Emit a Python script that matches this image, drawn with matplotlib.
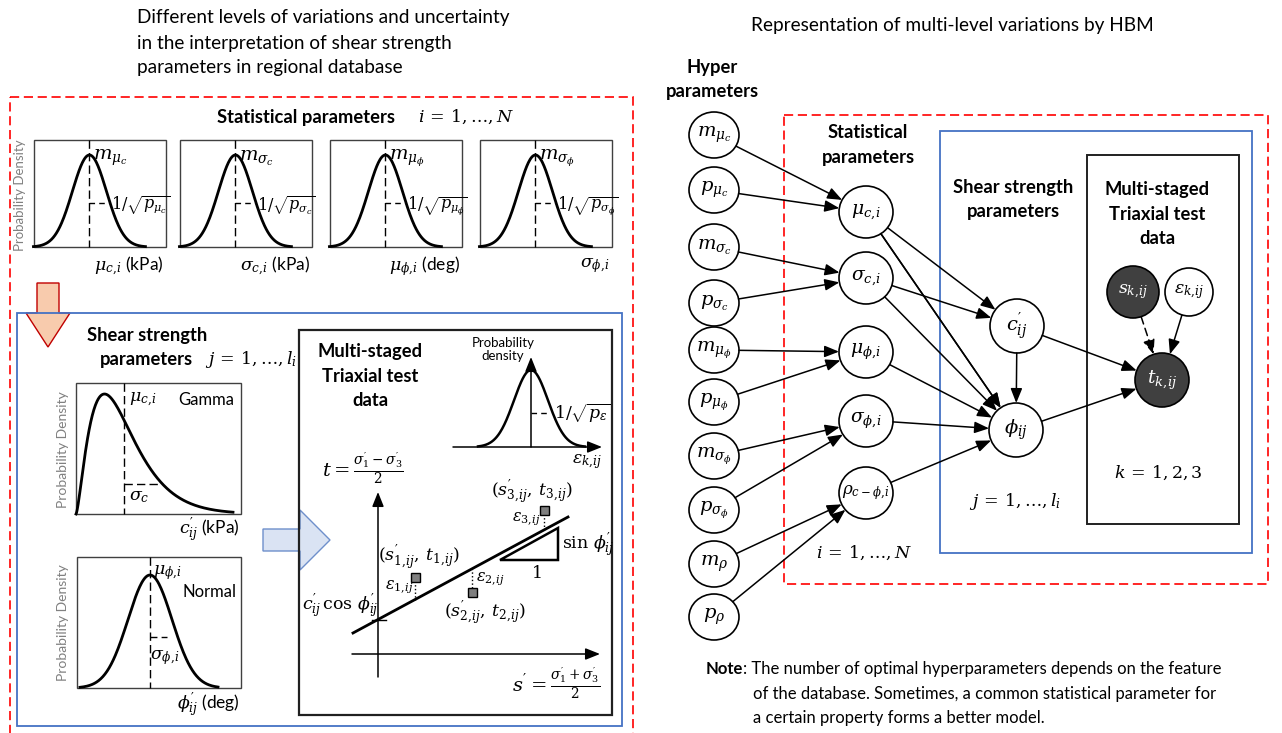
import numpy as np
import matplotlib.pyplot as plt
from matplotlib.patches import Rectangle, Ellipse, Polygon

plt.rcParams['font.family'] = ['Lato', 'DejaVu Sans']
plt.rcParams['mathtext.fontset'] = 'custom'
plt.rcParams['mathtext.rm'] = 'DejaVu Serif'
plt.rcParams['mathtext.it'] = 'DejaVu Serif:italic'
plt.rcParams['mathtext.bf'] = 'DejaVu Serif:bold'

# ---- left panel: priors of the statistical parameters ----
prior_mean = [r'$m_{\mu_c}$', r'$m_{\sigma_c}$', r'$m_{\mu_\phi}$', r'$m_{\sigma_\phi}$']
prior_prec = [r'$1/\sqrt{p_{\mu_c}}$', r'$1/\sqrt{p_{\sigma_c}}$',
              r'$1/\sqrt{p_{\mu_\phi}}$', r'$1/\sqrt{p_{\sigma_\phi}}$']
prior_xlab = [r'$\mu_{c,\!i}$ (kPa)', r'$\sigma_{c,\!i}$ (kPa)', r'$\mu_{\phi,\!i}$ (deg)',
              r'$\sigma_{\phi,\!i}$']
prior_left = [34, 180, 330, 480]

# triaxial test points (s', t) and the fitted failure line
pt_s = [415, 472, 544]
pt_t = [577, 592, 510]
pt_lab = [r"$(s^{\prime}_{1,\!ij},\, t_{1,\!ij})$", r"$(s^{\prime}_{2,\!ij},\, t_{2,\!ij})$",
          r"$(s^{\prime}_{3,\!ij},\, t_{3,\!ij})$"]
err_lab = [r'$\varepsilon_{1,\!ij}$', r'$\varepsilon_{2,\!ij}$', r'$\varepsilon_{3,\!ij}$']
line_x = [353, 568]
line_y = [633, 517]

# ---- right panel: HBM graph ----
hyper_lab = [r'$m_{\mu_c}$', r'$p_{\mu_c}$', r'$m_{\sigma_c}$', r'$p_{\sigma_c}$',
             r'$m_{\mu_\phi}$', r'$p_{\mu_\phi}$', r'$m_{\sigma_\phi}$', r'$p_{\sigma_\phi}$',
             r'$m_\rho$', r'$p_\rho$']
hyper_y = [135, 190, 247, 303, 350, 402, 456, 510, 564, 617]
stat_lab = [r'$\mu_{c,\!i}$', r'$\sigma_{c,\!i}$', r'$\mu_{\phi,\!i}$', r'$\sigma_{\phi,\!i}$',
            r'$\rho_{c-\phi,\!i}$']
stat_y = [212, 278, 352, 421, 493]
# stat node -> shear strength node ('c' or 'phi')
stat_links = [(0, 'c'), (0, 'phi'), (0, 'phi'), (1, 'c'), (1, 'phi'),
              (2, 'phi'), (3, 'phi'), (4, 'phi')]

fig = plt.figure(figsize=(12.82, 7.33), dpi=100)
ax = fig.add_axes([0, 0, 1, 1])
ax.set_xlim(0, 1282)
ax.set_ylim(733, 0)
ax.axis('off')

RED_DASH = (0, (5.5, 2.8))
BLUE = '#4472C4'


def txt(x, y, s, size=12, ha='left', va='center', **kw):
    ax.text(x, y, s, fontsize=size, ha=ha, va=va, **kw)


def arrow(p0, p1, ls='-', lw=1.1):
    ax.annotate('', xy=p1, xytext=p0,
                arrowprops=dict(arrowstyle='-|>,head_length=0.55,head_width=0.22',
                                color='k', lw=lw, ls=ls, shrinkA=0, shrinkB=0,
                                mutation_scale=16))


def edge_pt(c, r, toward):
    d = np.array(toward, float) - np.array(c, float)
    d /= np.hypot(*d)
    k = 1 / np.sqrt((d[0] / r[0]) ** 2 + (d[1] / r[1]) ** 2)
    return (c[0] + d[0] * k, c[1] + d[1] * k)


def node(c, r, s, dark=False, size=13):
    ax.add_patch(Ellipse(c, 2 * r[0], 2 * r[1], fc='#404040' if dark else 'white',
                         ec='k', lw=1.2, zorder=3))
    txt(c[0], c[1], s, size, ha='center', color='white' if dark else 'k', zorder=4)


# titles
txt(137, 17, 'Different levels of variations and uncertainty', 13.7)
txt(137, 43, 'in the interpretation of shear strength', 13.7)
txt(137, 68, 'parameters in regional database', 13.7)
txt(952, 25, 'Representation of multi-level variations by HBM', 13.7, ha='center')

# outer frame of the left panel
ax.add_patch(Rectangle((10, 97), 623, 700, fill=False, ec='red', lw=1.2, ls=RED_DASH))
txt(306, 117, 'Statistical parameters', 13.2, ha='center', weight='bold')
txt(418, 117, r'$i\,=\,1,\ldots,N$', 12.5)

# prior densities
for k in range(4):
    x0, w, top, bot = prior_left[k], 132, 140, 247
    ax.add_patch(Rectangle((x0, top), w, bot - top, fill=False, ec='#404040', lw=1))
    pk = x0 + 0.42 * w
    xs = np.linspace(pk - 56, pk + 56, 200)
    ax.plot(xs, bot - 92 * np.exp(-0.5 * ((xs - pk) / 17) ** 2), color='k', lw=2)
    ax.plot([pk, pk], [top, bot], color='k', lw=1, ls=(0, (6, 3)))
    hy = 0.48
    xe = pk + 17 * np.sqrt(-2 * np.log(hy))
    ax.plot([pk, xe], [bot - 92 * hy] * 2, color='k', lw=1, ls=(0, (4, 3)))
    txt(pk + 4, 158, prior_mean[k], 14)
    txt(xe + 1, 206, prior_prec[k], 11.5)
    txt(x0 + w - 2, 266, prior_xlab[k], 12.5, ha='right')
txt(20, 195, 'Probability Density', 9.5, ha='center', rotation=90, color='#808080')

# orange down arrow
ax.add_patch(Polygon([(37, 283), (59, 283), (59, 313), (70, 313), (48, 347),
                      (26, 313), (37, 313)], fc='#F8CBAD', ec='#C00000', lw=1))

# blue frame: shear strength parameters
ax.add_patch(Rectangle((17, 313), 605, 413, fill=False, ec=BLUE, lw=1.3))
txt(147, 335, 'Shear strength', 13.2, ha='center', weight='bold')
txt(146, 360, 'parameters', 13.2, ha='center', weight='bold')
txt(205, 360, r'$j\,=\,1,\ldots,l_i$', 12.5)

# gamma density of c'
gx0, gx1, gtop, gbot = 76, 241, 383, 514
ax.add_patch(Rectangle((gx0, gtop), gx1 - gx0, gbot - gtop, fill=False, ec='#404040', lw=1))
kk, th = 2.5, 19.0
xs = np.linspace(0.01, 157, 300)
g = xs ** (kk - 1) * np.exp(-xs / th)
ax.plot(gx0 + xs, gbot - 120 * g / g.max(), color='k', lw=2)
gm = gx0 + kk * th
ax.plot([gm, gm], [gtop, gbot], color='k', lw=1, ls=(0, (6, 3)))
ax.plot([gm, gm + np.sqrt(kk) * th + 6], [484, 484], color='k', lw=1, ls=(0, (6, 3)))
txt(129, 400, r'$\mu_{c,\!i}$', 12.5)
txt(178, 400, 'Gamma', 12)
txt(129, 497, r'$\sigma_c$', 12.5)
txt(63, 450, 'Probability Density', 10, ha='center', rotation=90, color='#808080')
txt(240, 530, r"$c^{\prime}_{ij}$ (kPa)", 12.5, ha='right')

# normal density of phi'
nx0, nx1, ntop, nbot = 77, 241, 557, 688
ax.add_patch(Rectangle((nx0, ntop), nx1 - nx0, nbot - ntop, fill=False, ec='#404040', lw=1))
nm = 150
xs = np.linspace(nm - 70, nm + 68, 200)
ax.plot(xs, nbot - 113 * np.exp(-0.5 * ((xs - nm) / 22) ** 2), color='k', lw=2)
ax.plot([nm, nm], [ntop, nbot], color='k', lw=1, ls=(0, (6, 3)))
ax.plot([nm, nm + 17], [637, 637], color='k', lw=1, ls=(0, (5, 3)))
txt(153, 573, r'$\mu_{\phi,\!i}$', 12.5)
txt(183, 592, 'Normal', 12)
txt(150, 658, r'$\sigma_{\phi,\!i}$', 12.5)
txt(63, 623, 'Probability Density', 10, ha='center', rotation=90, color='#808080')
txt(240, 705, r"$\phi^{\prime}_{ij}$ (deg)", 12.5, ha='right')

# blue right arrow
ax.add_patch(Polygon([(263, 529), (300, 529), (300, 510), (330, 540), (300, 570),
                      (300, 551), (263, 551)], fc='#DAE3F3', ec='#6E8FCB', lw=1))

# triaxial test panel
ax.add_patch(Rectangle((299, 330), 313, 385, fill=False, ec='#202020', lw=1.6))
txt(370, 352, 'Multi-staged', 13.2, ha='center', weight='bold')
txt(370, 376, 'Triaxial test', 13.2, ha='center', weight='bold')
txt(370, 400, 'data', 13.2, ha='center', weight='bold')

# measurement error density
txt(503, 343, 'Probability', 9.5, ha='center')
txt(503, 356, 'density', 9.5, ha='center')
arrow((531, 447), (531, 357))
arrow((453, 447), (602, 447))
xs = np.linspace(478, 585, 200)
ax.plot(xs, 447 - 77 * np.exp(-0.5 * ((xs - 531) / 17) ** 2), color='k', lw=1.8)
ax.plot([531, 550], [413, 413], color='k', lw=1, ls=(0, (4, 3)))
txt(554, 413, r'$1/\sqrt{p_\varepsilon}$', 12.5)
txt(602, 462, r'$\varepsilon_{k,\!ij}$', 12.5, ha='right')

# s'-t plane
arrow((378, 677), (378, 492))
arrow((352, 654), (600, 654))
txt(363, 468, r"$t = \frac{\sigma^{\prime}_1 - \sigma^{\prime}_3}{2}$", 14, ha='center')
txt(556, 683, r"$s^{\prime} = \frac{\sigma^{\prime}_1+\sigma^{\prime}_3}{2}$", 14, ha='center')
ax.plot(line_x, line_y, color='k', lw=2)
ax.plot([372, 386], [620, 620], color='k', lw=1)
txt(340, 606, r"$c^{\prime}_{ij}\,\cos\,\phi^{\prime}_{ij}$", 12.5, ha='center')
slope = (line_y[1] - line_y[0]) / (line_x[1] - line_x[0])
for k in range(3):
    ly = line_y[0] + slope * (pt_s[k] - line_x[0])
    off = 4 if pt_t[k] < ly else -4
    ax.plot([pt_s[k], pt_s[k]], [pt_t[k] + off, ly], color='k', lw=1, ls=':')
    ax.add_patch(Rectangle((pt_s[k] - 4.5, pt_t[k] - 4.5), 9, 9, fc='#7F7F7F',
                           ec='k', lw=1, zorder=3))
txt(399, 587, err_lab[0], 11.5, ha='center')
txt(490, 579, err_lab[1], 11.5, ha='center')
txt(526, 519, err_lab[2], 11.5, ha='center')
txt(419, 558, pt_lab[0], 12.5, ha='center')
txt(485, 613, pt_lab[1], 12.5, ha='center')
txt(532, 492, pt_lab[2], 12.5, ha='center')
ax.add_patch(Polygon([(500, 560), (558, 560), (558, 528)], fill=False, ec='k', lw=1.8))
txt(562, 545, r"$\sin\,\phi^{\prime}_{ij}$", 12.5)
txt(536, 573, r'$1$', 12.5, ha='center')

# ---- right panel ----
txt(712, 67, 'Hyper', 13.2, ha='center', weight='bold')
txt(712, 91, 'parameters', 13.2, ha='center', weight='bold')
ax.add_patch(Rectangle((784, 115), 484, 469, fill=False, ec='red', lw=1.2, ls=RED_DASH))
ax.add_patch(Rectangle((940, 131), 312, 422, fill=False, ec=BLUE, lw=1.3))
ax.add_patch(Rectangle((1087, 155), 152, 369, fill=False, ec='#202020', lw=1.4))
txt(868, 133, 'Statistical', 13.2, ha='center', weight='bold')
txt(868, 157, 'parameters', 13.2, ha='center', weight='bold')
txt(1013, 187, 'Shear strength', 13.2, ha='center', weight='bold')
txt(1013, 212, 'parameters', 13.2, ha='center', weight='bold')
txt(1157, 190, 'Multi-staged', 13.2, ha='center', weight='bold')
txt(1157, 215, 'Triaxial test', 13.2, ha='center', weight='bold')
txt(1157, 239, 'data', 13.2, ha='center', weight='bold')

hx, hr = 714, (25, 23)
sx, sr = 866, (27, 26)
nodes = {'c': ((1017, 326), (27, 27)), 'phi': ((1016, 430), (27, 27)),
         's': ((1133, 292), (26, 26)), 'e': ((1189, 292), (24, 24)),
         't': ((1162, 380), (27, 27))}

for k in range(len(hyper_y)):
    node((hx, hyper_y[k]), hr, hyper_lab[k], size=14)
for k in range(len(stat_y)):
    node((sx, stat_y[k]), sr, stat_lab[k], size=13.5 if k < 4 else 12)
node(*nodes['c'], r"$c^{\prime}_{ij}$", size=14)
node(*nodes['phi'], r'$\phi_{ij}$', size=14)
node(*nodes['s'], r'$s_{k,\!ij}$', dark=True, size=12.5)
node(*nodes['e'], r'$\varepsilon_{k,\!ij}$', size=12.5)
node(*nodes['t'], r'$t_{k,\!ij}$', dark=True, size=13.5)

for k in range(len(hyper_y)):
    c0, c1 = (hx, hyper_y[k]), (sx, stat_y[k // 2])
    arrow(edge_pt(c0, hr, c1), edge_pt(c1, sr, c0))
for n, (k, tgt) in enumerate(stat_links):
    c0 = (sx, stat_y[k])
    c1, r1 = nodes[tgt]
    aim = (c1[0], c1[1] - 4 + 3 * (n % 3))
    arrow(edge_pt(c0, sr, aim), edge_pt(c1, r1, c0))
for a, b, ls in [('c', 'phi', '-'), ('c', 't', '-'), ('phi', 't', '-'),
                 ('s', 't', (0, (5, 3))), ('e', 't', '-')]:
    (c0, r0), (c1, r1) = nodes[a], nodes[b]
    arrow(edge_pt(c0, r0, c1), edge_pt(c1, r1, c0), ls=ls)

txt(864, 553, r'$i\,=\,1,\ldots,N$', 12.5, ha='center')
txt(1015, 502, r'$j\,=\,1,\ldots,l_i$', 12.5, ha='center')
txt(1158, 473, r'$k\,=\,1,2,3$', 12.5, ha='center')

# note
txt(706, 669, 'Note', 12, weight='bold')
txt(743, 669, ': The number of optimal hyperparameters depends on the feature', 12)
txt(753, 694, 'of the database. Sometimes, a common statistical parameter for', 12)
txt(753, 718, 'a certain property forms a better model.', 12)

fig.savefig('out.png', dpi=100)
